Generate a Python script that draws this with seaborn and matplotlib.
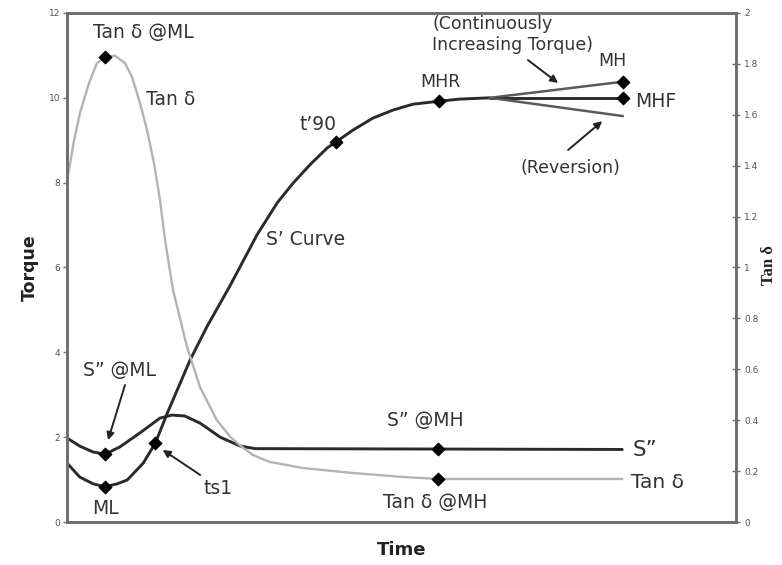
import matplotlib
matplotlib.use("Agg")
import matplotlib.pyplot as plt
import seaborn as sns

# S' curve (torque); time axis is arbitrary 0-100
s1_time = [0, 1.9, 3.9, 5.7, 7.5, 9.0, 11.4, 13.2, 15.0, 18.4, 20.9, 24.4, 28.4,
           31.4, 33.8, 36.3, 38.9, 40.2, 42.75, 45.7, 48.7, 51.7, 55.6, 58.7, 63.2]
s1_torque = [1.39, 1.06, 0.90, 0.83, 0.90, 0.99, 1.39, 1.86, 2.57, 3.82, 4.60, 5.58, 6.77,
             7.52, 7.99, 8.42, 8.82, 8.96, 9.24, 9.52, 9.71, 9.85, 9.92, 9.97, 10.0]

# end branches after the plateau
branch_time = [63.2, 83.1]
mh_torque = [10.0, 10.38]
mhf_torque = [10.0, 10.0]
rev_torque = [10.0, 9.57]

# S'' curve (torque)
s2_time = [0, 1.9, 3.9, 5.7, 7.9, 10.9, 13.9, 15.7, 17.6, 19.9, 22.9, 25.9, 28.1, 83.0]
s2_torque = [1.98, 1.79, 1.65, 1.60, 1.77, 2.10, 2.45, 2.52, 2.50, 2.33, 2.00, 1.79, 1.73, 1.71]

# Tan delta (right axis)
td_time = [0, 0.3, 1.05, 1.94, 3.29, 4.48, 5.68, 7.17, 8.67, 9.72, 10.9, 11.96, 13.0,
           13.9, 14.65, 15.84, 17.94, 19.88, 22.4, 24.4, 25.9, 27.8, 30.3, 35.3, 42.75,
           50.2, 55.5, 83.0]
td_value = [1.35, 1.383, 1.50, 1.607, 1.725, 1.803, 1.827, 1.832, 1.803, 1.748, 1.647,
            1.54, 1.41, 1.265, 1.108, 0.912, 0.688, 0.53, 0.40, 0.335, 0.30, 0.263, 0.236,
            0.212, 0.1925, 0.177, 0.169, 0.169]

# marked points: ML, ts1, t'90, MHR, MH, MHF, S''@ML, S''@MH
torque_pts_time = [5.7, 13.2, 40.2, 55.6, 83.1, 83.1, 5.7, 55.5]
torque_pts_val = [0.83, 1.86, 8.96, 9.92, 10.38, 10.0, 1.60, 1.71]
# Tan d @ML, Tan d @MH
td_pts_time = [5.68, 55.5]
td_pts_val = [1.827, 0.169]

left_ticks = [0, 2, 4, 6, 8, 10, 12]
right_ticks = [0, 0.2, 0.4, 0.6, 0.8, 1, 1.2, 1.4, 1.6, 1.8, 2]
right_labels = ["0", "0.2", "0.4", "0.6", "0.8", "1", "1.2", "1.4", "1.6", "1.8", "2"]

sns.set_style("white")
plt.rcParams['font.family'] = ['DejaVu Sans']

fig = plt.figure(figsize=(7.82, 5.65), dpi=100)
ax = fig.add_axes([0.0857, 0.0761, 0.8555, 0.9009])
ax2 = ax.twinx()

dark = '#2a2a2a'
txt = '#333333'
spine_c = '#707070'

sns.lineplot(x=s1_time, y=s1_torque, ax=ax, color=dark, lw=2.1)
sns.lineplot(x=branch_time, y=mh_torque, ax=ax, color='#5a5a5a', lw=1.8)
sns.lineplot(x=branch_time, y=mhf_torque, ax=ax, color=dark, lw=2.1)
sns.lineplot(x=branch_time, y=rev_torque, ax=ax, color='#5a5a5a', lw=1.8)
sns.lineplot(x=s2_time, y=s2_torque, ax=ax, color=dark, lw=2.1)
sns.scatterplot(x=torque_pts_time, y=torque_pts_val, ax=ax, marker='D', s=45,
                color='black', edgecolor='black', zorder=5)

sns.lineplot(x=td_time, y=td_value, ax=ax2, color='#b3b3b3', lw=1.7)
sns.scatterplot(x=td_pts_time, y=td_pts_val, ax=ax2, marker='D', s=45,
                color='black', edgecolor='black', zorder=5)

ax.set_xlim(0, 100)
ax.set_ylim(0, 12)
ax2.set_ylim(0, 2)
ax.set_xticks([])
ax.set_yticks(left_ticks)
ax.set_yticklabels([str(t) for t in left_ticks])
ax2.set_yticks(right_ticks)
ax2.set_yticklabels(right_labels)
ax.tick_params(axis='y', left=True, length=3, width=1, color=spine_c, pad=2,
               labelsize=6.5, labelcolor='#555555')
ax2.tick_params(axis='y', right=True, direction='inout', length=6, width=1, color=spine_c,
                pad=3, labelsize=6.5, labelcolor='#555555')
for a in (ax, ax2):
    for sp in a.spines.values():
        sp.set_color(spine_c)
        sp.set_linewidth(2.0)

ax.set_xlabel('Time', fontsize=13, fontweight='bold', color='#222222', labelpad=14)
ax.set_ylabel('Torque', fontsize=12.5, fontweight='bold', color='#222222')
ax.yaxis.set_label_coords(-0.042, 0.5)
ax2.set_ylabel('')
fig.text(0.983, 0.53, 'Tan δ', rotation=90, ha='center', va='center', fontsize=12,
         fontweight='bold', family='Liberation Serif', color='#222222')

fs = 13.5
fs2 = 12.5
ax.text(11.4, 11.55, 'Tan δ @ML', ha='center', va='center', fontsize=fs, color=txt)
ax.text(15.5, 9.95, 'Tan δ', ha='center', va='center', fontsize=fs, color=txt)
ax.text(37.5, 9.38, 't’90', ha='center', va='center', fontsize=fs, color=txt)
ax.text(35.6, 6.65, 'S’ Curve', ha='center', va='center', fontsize=fs, color=txt)
ax.text(55.8, 10.37, 'MHR', ha='center', va='center', fontsize=fs2, color=txt)
ax.text(54.6, 11.5, '(Continuously\nIncreasing Torque)', ha='left', va='center',
        fontsize=fs2, color=txt, linespacing=1.2)
ax.text(81.5, 10.87, 'MH', ha='center', va='center', fontsize=fs2, color=txt)
ax.text(84.9, 9.92, 'MHF', ha='left', va='center', fontsize=fs, color=txt)
ax.text(75.3, 8.35, '(Reversion)', ha='center', va='center', fontsize=fs2, color=txt)
ax.text(7.9, 3.56, 'S” @ML', ha='center', va='center', fontsize=fs, color=txt)
ax.text(5.7, 0.33, 'ML', ha='center', va='center', fontsize=fs, color=txt)
ax.text(22.6, 0.80, 'ts1', ha='center', va='center', fontsize=fs, color=txt)
ax.text(53.5, 2.40, 'S” @MH', ha='center', va='center', fontsize=fs, color=txt)
ax.text(84.5, 1.70, 'S”', ha='left', va='center', fontsize=fs + 2, color=txt)
ax.text(84.3, 0.92, 'Tan δ', ha='left', va='center', fontsize=fs + 1, color=txt)
ax.text(55.0, 0.45, 'Tan δ @MH', ha='center', va='center', fontsize=fs, color=txt)

arrow = dict(arrowstyle='-|>', color='#222222', lw=1.4, mutation_scale=11,
             shrinkA=0, shrinkB=0)
ax.annotate('', xy=(6.13, 1.93), xytext=(8.67, 3.23), arrowprops=arrow)
ax.annotate('', xy=(14.3, 1.70), xytext=(19.9, 1.11), arrowprops=arrow)
ax.annotate('', xy=(73.4, 10.35), xytext=(68.9, 10.89), arrowprops=arrow)
ax.annotate('', xy=(80.0, 9.45), xytext=(74.9, 8.77), arrowprops=arrow)

fig.savefig('out.png', dpi=100)
